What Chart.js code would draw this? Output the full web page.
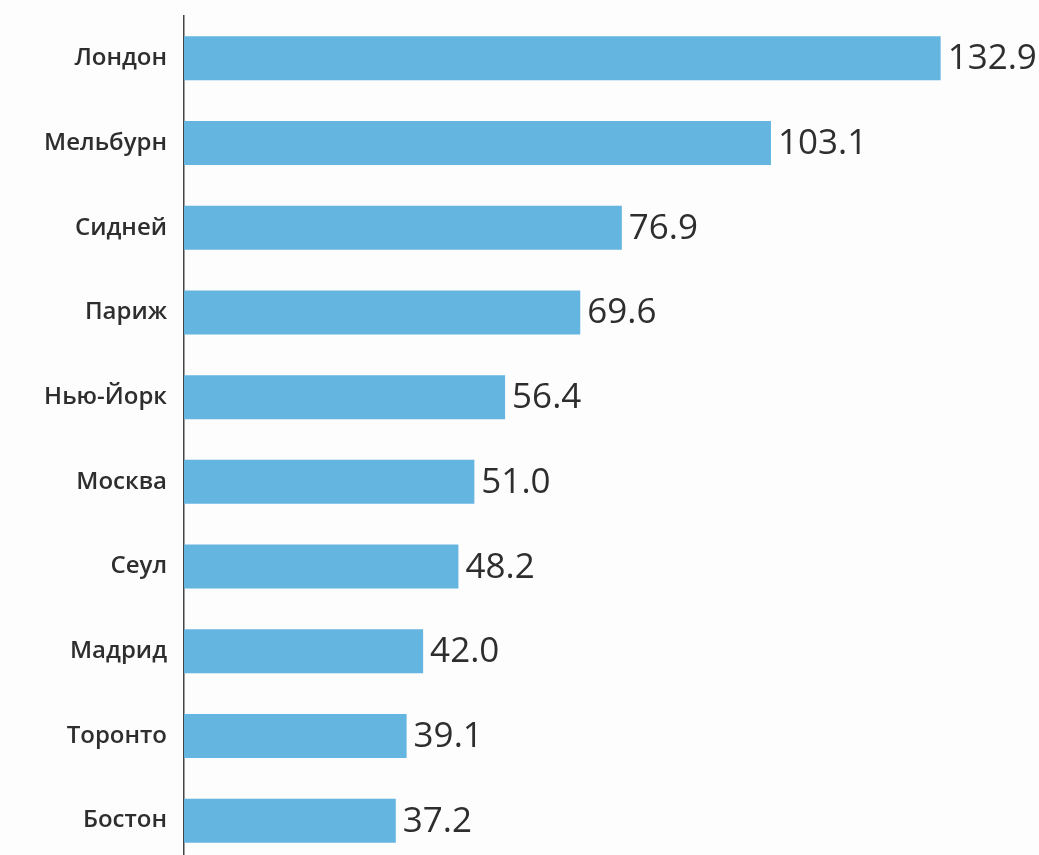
<!DOCTYPE html>
<html>
<head>
<meta charset="utf-8">
<script src="https://cdn.jsdelivr.net/npm/chart.js@4"></script>
<style>
  html, body { margin: 0; padding: 0; background: #fdfdfd; overflow: hidden; }
  #wrap { width: 1039px; height: 865px; }
</style>
</head>
<body>
<div id="wrap"><canvas id="chart" width="1039" height="865"></canvas></div>
<script>
// Cities and values (top to bottom)
const cities = ['Лондон', 'Мельбурн', 'Сидней', 'Париж', 'Нью-Йорк', 'Москва', 'Сеул', 'Мадрид', 'Торонто', 'Бостон'];
const values = [132.9, 103.1, 76.9, 69.6, 56.4, 51.0, 48.2, 42.0, 39.1, 37.2];

const FONT = '"Open Sans", "Noto Sans", sans-serif';

// value labels at the end of each bar
const valueLabels = {
  id: 'valueLabels',
  afterDatasetsDraw(chart) {
    const ctx = chart.ctx;
    const meta = chart.getDatasetMeta(0);
    ctx.save();
    ctx.font = '400 35px ' + FONT;
    ctx.fillStyle = '#2e2e2e';
    ctx.textAlign = 'left';
    ctx.textBaseline = 'middle';
    meta.data.forEach((bar, i) => {
      ctx.fillText(values[i].toFixed(1), bar.x + 7, bar.y + 1);
    });
    ctx.restore();
  }
};

new Chart(document.getElementById('chart'), {
  type: 'bar',
  data: {
    labels: cities,
    datasets: [{
      data: values,
      backgroundColor: '#64b5e0',
      borderWidth: 0,
      barPercentage: 0.52,
      categoryPercentage: 1
    }]
  },
  options: {
    indexAxis: 'y',
    responsive: false,
    animation: false,
    layout: { padding: { left: 0, right: 1, top: 16, bottom: 2 } },
    plugins: {
      legend: { display: false },
      tooltip: { enabled: false }
    },
    scales: {
      x: { display: false, min: 0, max: 150 },
      y: {
        afterFit: (scale) => {
          scale.width = 184;
          scale.paddingTop = 0;
          scale.paddingBottom = 0;
        },
        grid: { display: false },
        border: { display: true, color: '#444', width: 1.5 },
        ticks: { color: '#2e2e2e', padding: 9, font: { family: FONT, size: 24, weight: '600' } }
      }
    }
  },
  plugins: [valueLabels]
});
</script>
</body>
</html>
